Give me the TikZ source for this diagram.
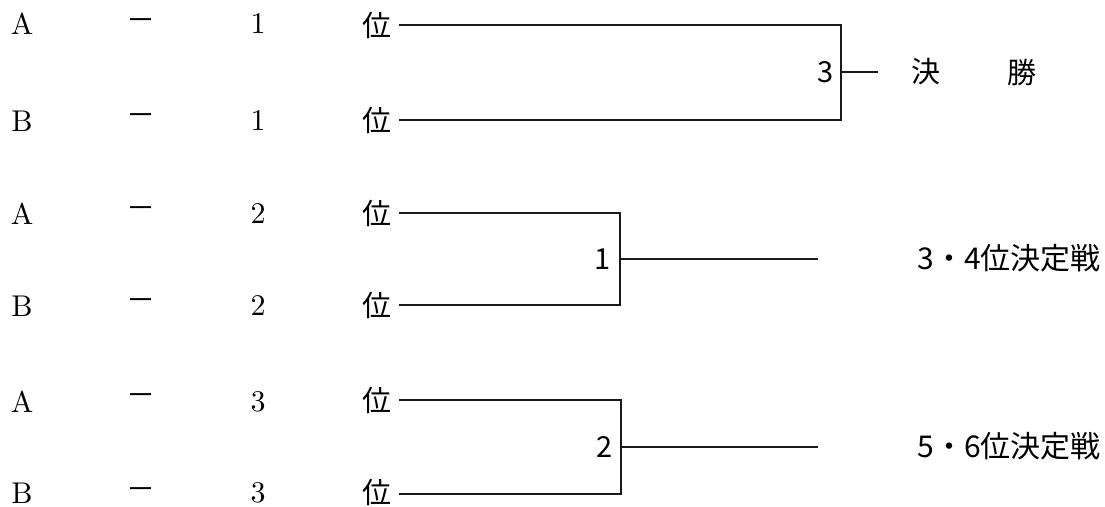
\documentclass[tikz,border=0pt]{standalone}
\usepackage{fontspec}
\newfontfamily\cjk{Noto Sans CJK JP}
\newfontfamily\lmten{lmroman10-regular}[Extension=.otf]
\begin{document}
\begin{tikzpicture}[x=1pt,y=-1pt,
  lat/.style={font=\fontsize{30}{30}\selectfont\lmten, inner sep=0pt},
  jp/.style={font=\fontsize{29}{29}\selectfont\cjk, inner sep=0pt},
  lab/.style={font=\fontsize{30}{30}\selectfont\cjk, inner sep=0pt, anchor=east},
  num/.style={font=\fontsize{29}{29}\selectfont\cjk, inner sep=0pt, anchor=east},
  ln/.style={line width=1.3pt, black!90}]
\useasboundingbox (0,0) rectangle (1105,506);
% left column
\foreach \i/\y/\ty/\py/\t/\n in {1/25/24/25/A/1, 2/120/121/120/B/1, 3/213/214/213/A/2, 4/305/306/305/B/2, 5/400/402/400/A/3, 6/494/493/492/B/3}{
  \node[lat] (l\i) at (22,\ty) {\t};
  \node[jp]  (d\i) at (141,\y) {－};
  \node[lat] (r\i) at (258,\ty) {\n};
  \node[jp]  (p\i) at (377,\py) {位};
  \coordinate (s\i) at (399,\y);
}
% final
\coordinate (t1) at (841,25);
\coordinate (t2) at (841,120);
\coordinate (m1) at (841,72);
\coordinate (e1) at (878,72);
\draw[ln] (s1) -- (t1) -- (t2) -- (s2);
\draw[ln] (m1) -- (e1);
\node[num] (n3) at ([xshift=-7pt]m1) {3};
\node[jp] (k1) at (926,72) {決};
\node[jp] (k2) at (1022,72) {勝};
% 3-4
\coordinate (t3) at (620,213);
\coordinate (t4) at (620,305);
\coordinate (m2) at (620,259);
\coordinate (e2) at (818,259);
\draw[ln] (s3) -- (t3) -- (t4) -- (s4);
\draw[ln] (m2) -- (e2);
\node[num] (n1) at ([xshift=-9pt]m2) {1};
\node[lab] (k3) at (1101,258) {3・4位決定戦};
% 5-6
\coordinate (t5) at (621,400);
\coordinate (t6) at (621,494);
\coordinate (m3) at (621,447);
\coordinate (e3) at (818,447);
\draw[ln] (s5) -- (t5) -- (t6) -- (s6);
\draw[ln] (m3) -- (e3);
\node[num] (n2) at ([xshift=-8pt]m3) {2};
\node[lab] (k4) at (1101,446) {5・6位決定戦};
\end{tikzpicture}
\end{document}
